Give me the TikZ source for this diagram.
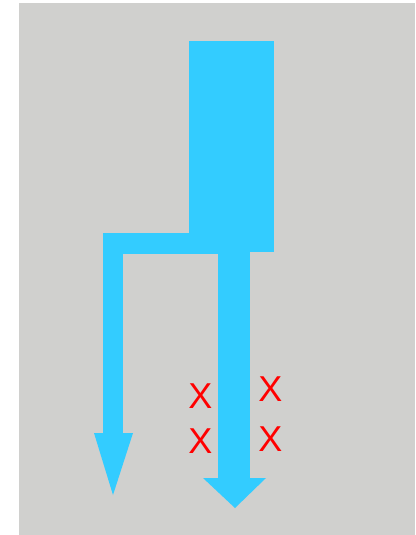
\documentclass[tikz,border=0pt]{standalone}
\usepackage{fontspec}
\setmainfont{Liberation Sans}
\usetikzlibrary{positioning}
\definecolor{cback}{HTML}{D0D0CE}
\definecolor{cflow}{HTML}{33CCFF}
\definecolor{cmark}{HTML}{FF0000}
\tikzset{
  every picture/.style={x=1pt, y=-1pt},
  flow/.style={fill=cflow, draw=none},
  cross/.style={text=cmark, font=\fontsize{36}{36}\selectfont, inner sep=0pt},
}

\begin{document}
\begin{tikzpicture}
  \path[use as bounding box] (0,0) rectangle (415,535);
  \fill[cback] (19,3) rectangle (415,535);
  % source box and split bar
  \fill[flow] (189,41) rectangle (274,252);
  \fill[flow] (104,233) rectangle (219,254);
  % left branch
  \fill[flow] (103,233) rectangle (123,433);
  \fill[flow] (94,433) -- (133,433) -- (113,495) -- cycle;
  % right branch
  \fill[flow] (218,250) rectangle (250,478);
  \fill[flow] (203,478) -- (266,478) -- (235,508) -- cycle;
  % blocked marks
  \node[cross] (xlt) at (200.5,396) {X};
  \node[cross] (xlb) at (200.5,441) {X};
  \node[cross] (xrt) at (270.5,389.5) {X};
  \node[cross] (xrb) at (270.5,439.5) {X};
\end{tikzpicture}
\end{document}
